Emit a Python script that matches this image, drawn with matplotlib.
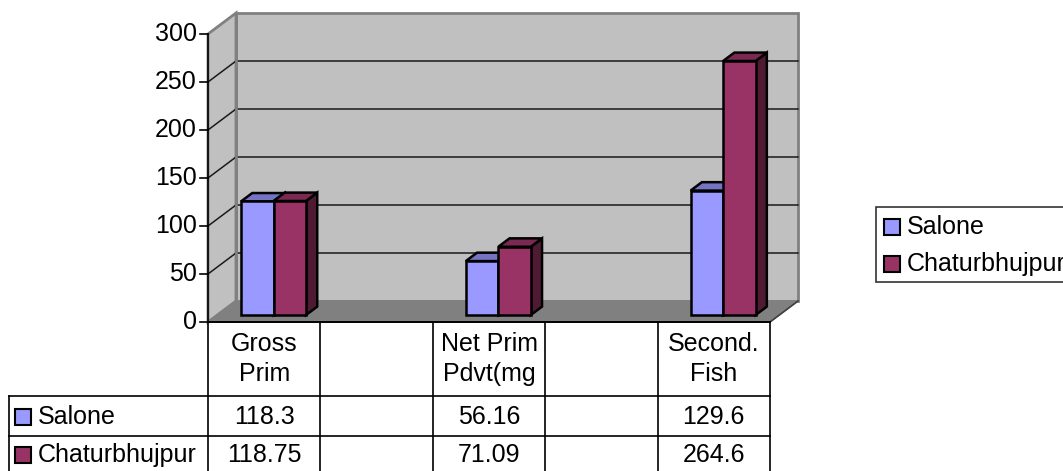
import matplotlib
matplotlib.use("Agg")
import matplotlib.pyplot as plt
from matplotlib.patches import Polygon, Rectangle
from matplotlib.transforms import blended_transform_factory

# ---------------- data ----------------
categories = ["Gross\nPrim", "", "Net Prim\nPdvt(mg", "", "Second.\nFish"]
series_names = ["Salone", "Chaturbhujpur"]
salone = [118.3, None, 56.16, None, 129.6]
chaturbhujpur = [118.75, None, 71.09, None, 264.6]
salone_labels = ["118.3", "", "56.16", "", "129.6"]
chaturbhujpur_labels = ["118.75", "", "71.09", "", "264.6"]
yticks = [0, 50, 100, 150, 200, 250, 300]

series_values = [salone, chaturbhujpur]
series_labels = [salone_labels, chaturbhujpur_labels]
front_colors = ["#9999FF", "#993366"]
top_colors = ["#7474C2", "#7A2952"]
side_colors = ["#5C5C99", "#4E1B33"]

plt.rcParams['font.family'] = ['Liberation Sans', 'DejaVu Sans']
FS = 18

W, H = 1063, 471
fig = plt.figure(figsize=(W / 100, H / 100), dpi=100)

# front plane of the chart in pixel layout
L, R, T, B = 208, 770, 34, 322
ax = fig.add_axes([L / W, 1 - B / H, (R - L) / W, (B - T) / H])
ncat = len(categories)
ymax = yticks[-1]
ax.set_xlim(-0.5, ncat - 0.5)
ax.set_ylim(0, ymax)
ax.axis('off')

ov = fig.add_axes([0, 0, 1, 1], zorder=5)
ov.set_xlim(0, W)
ov.set_ylim(H, 0)
ov.axis('off')
ov.patch.set_alpha(0)

px_x = (R - L) / ncat
px_y = (B - T) / ymax
DX = 28 / px_x
DY = 21 / px_y
x0, x1 = -0.5, ncat - 0.5

# walls and floor
ax.add_patch(Polygon([(x0 + DX, DY), (x1 + DX, DY), (x1 + DX, ymax + DY), (x0 + DX, ymax + DY)],
                     closed=True, fc="#C0C0C0", ec="#808080", lw=2, clip_on=False, zorder=1))
ax.add_patch(Polygon([(x0, 0), (x0 + DX, DY), (x0 + DX, ymax + DY), (x0, ymax)],
                     closed=True, fc="#C0C0C0", ec="#808080", lw=2, clip_on=False, zorder=1))
ax.add_patch(Polygon([(x0, 0), (x1, 0), (x1 + DX, DY), (x0 + DX, DY)],
                     closed=True, fc="#808080", ec="#808080", lw=1, clip_on=False, zorder=2))

# gridlines
for v in yticks[1:-1]:
    ax.plot([x0 + DX, x1 + DX], [v + DY, v + DY], color="#1a1a1a", lw=1.1, clip_on=False, zorder=3)
    ax.plot([x0, x0 + DX], [v, v + DY], color="#1a1a1a", lw=1.1, clip_on=False, zorder=3)
ax.plot([x0 + DX, x0 + DX], [DY, ymax + DY], color="#808080", lw=2, clip_on=False, zorder=3)

# bars
f0 = 1 / 3
dd = 0.4
bw = 32.5 / px_x
for i in range(ncat):
    for j, vals in enumerate(series_values):
        v = vals[i]
        if v is None:
            continue
        xl = i + f0 * DX + (j - 1) * bw
        xr = xl + bw
        yb = f0 * DY
        yt = yb + v
        ox, oy = dd * DX, dd * DY
        kw = dict(closed=True, ec="black", lw=1.8, joinstyle="miter", clip_on=False, zorder=4)
        ax.add_patch(Polygon([(xr, yb), (xr + ox, yb + oy), (xr + ox, yt + oy), (xr, yt)],
                             fc=side_colors[j], **kw))
        ax.add_patch(Polygon([(xl, yt), (xr, yt), (xr + ox, yt + oy), (xl + ox, yt + oy)],
                             fc=top_colors[j], **kw))
        ax.add_patch(Polygon([(xl, yb), (xr, yb), (xr, yt), (xl, yt)],
                             fc=front_colors[j], **kw))

# axes lines
ax.plot([x0, x0], [0, ymax], color="black", lw=1.2, clip_on=False, zorder=6)
ax.plot([x1, x1 + DX], [0, DY], color="#404040", lw=1.2, clip_on=False, zorder=6)
ax.plot([x0, x1], [0, 0], color="black", lw=1.4, clip_on=False, zorder=6)

ty = blended_transform_factory(ov.transData, ax.transData)
for v in yticks:
    ov.plot([200, 208], [v, v], color="black", lw=1.2, transform=ty, clip_on=False)
    ov.text(197, v, str(v), transform=ty, ha="right", va="center", fontsize=FS)

# data table
tx = blended_transform_factory(ax.transData, ov.transData)
for k in range(ncat + 1):
    ov.plot([x0 + k, x0 + k], [B, H], color="black", lw=1.2, transform=tx, clip_on=False)
ov.plot([9, R], [396, 396], color="black", lw=1.2)
ov.plot([9, R], [436, 436], color="black", lw=1.2)
ov.plot([9, 9], [396, H], color="black", lw=1.2)

header_y = [344, 374]
for i, cat in enumerate(categories):
    if not cat:
        continue
    for line, yy in zip(cat.split("\n"), header_y):
        ov.text(i, yy, line, transform=tx, ha="center", va="center", fontsize=FS)

row_y = [417, 455]
for j, name in enumerate(series_names):
    yy = row_y[j]
    ov.add_patch(Rectangle((15, yy - 8), 16, 16, fc=front_colors[j], ec="black", lw=1.5))
    ov.text(38, yy, name, ha="left", va="center", fontsize=FS)
    for i, lab in enumerate(series_labels[j]):
        if lab:
            ov.text(i, yy, lab, transform=tx, ha="center", va="center", fontsize=FS)

# legend
ov.add_patch(Rectangle((876, 207), 220, 75, fc="white", ec="#333333", lw=1.2, clip_on=True))
leg_y = [227, 264]
for j, name in enumerate(series_names):
    yy = leg_y[j]
    ov.add_patch(Rectangle((884, yy - 8), 16, 16, fc=front_colors[j], ec="black", lw=1.5))
    ov.text(907, yy, name, ha="left", va="center", fontsize=FS)

fig.savefig("out.png", dpi=100)
